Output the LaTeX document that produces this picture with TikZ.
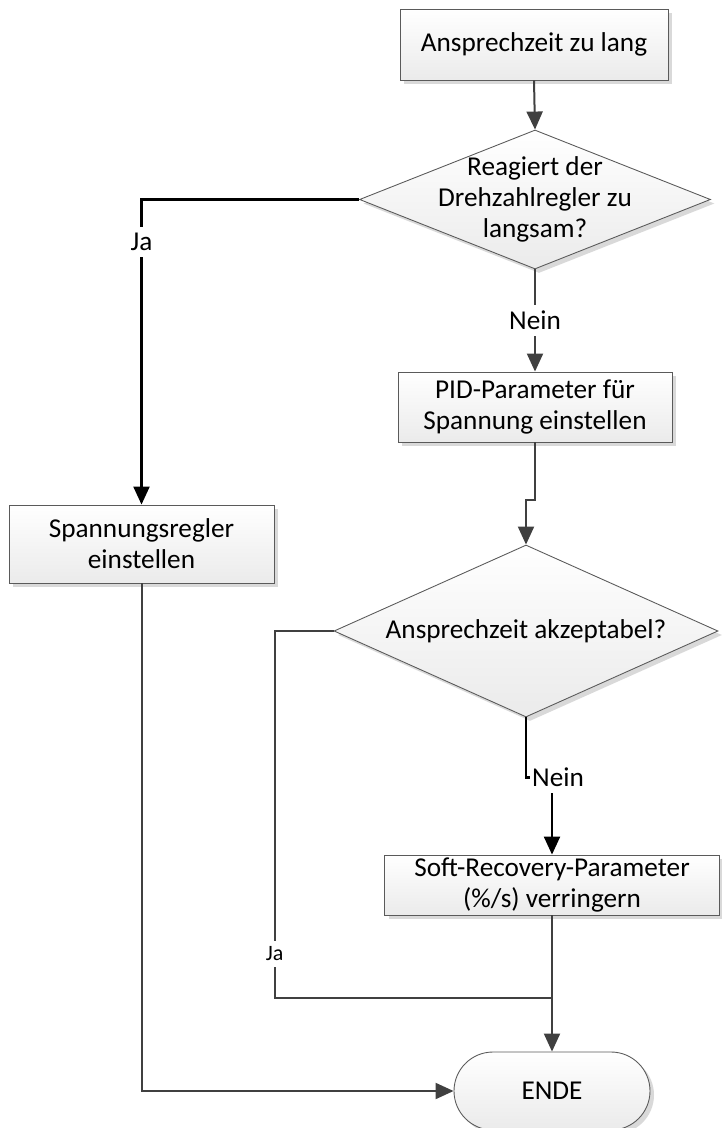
\documentclass[tikz,border=0pt]{standalone}
\usepackage{fontspec}
\setmainfont{Carlito}
\usetikzlibrary{positioning, shapes.geometric, shapes.misc, shadows, arrows.meta}

\definecolor{linegray}{HTML}{404040}
\definecolor{framegray}{HTML}{5A5A5A}

\begin{document}
\begin{tikzpicture}[
		    x=0.02cm, y=-0.02cm,
		    every node/.style={font=\fontsize{15.5}{17.6}\selectfont, inner sep=0pt},
		    shape base/.style={draw=framegray, line width=0.5pt, top color=white, bottom color=black!8,
		        drop shadow={shadow xshift=0.08cm, shadow yshift=-0.08cm, fill=black!15, opacity=1}},
		    box/.style={shape base, rectangle, align=center},
		    decision/.style={shape base, diamond},
		    terminal/.style={shape base, rounded rectangle},
		    line/.style={draw=linegray, line width=0.04cm},
		    flow/.style={line, -{Triangle[length=0.36cm, width=0.32cm]}},
		    flowdark/.style={flow, draw=black, line width=0.045cm},
		    lbl/.style={fill=white, inner sep=3.5pt}
		]
		    \useasboundingbox (0,0) rectangle (721,1128);

		    \node[box, minimum width=268*0.02cm, minimum height=71*0.02cm] (start) at (534,44.5) {Ansprechzeit zu lang};
		    \node[decision, minimum width=351*0.02cm, minimum height=139*0.02cm] (langsam) at (535,199.5) {};
		    \node[align=center] (langsamtxt) at (langsam) {Reagiert der\\Drehzahlregler zu\\langsam?};
		    \node[box, minimum width=265*0.02cm, minimum height=78*0.02cm] (spannung) at (141.5,544) {Spannungsregler\\einstellen};
		    \node[box, minimum width=274*0.02cm, minimum height=70*0.02cm] (pid) at (535,407) {PID-Parameter für\\Spannung einstellen};
		    \node[decision, minimum width=384*0.02cm, minimum height=172*0.02cm] (akzeptabel) at (526,631) {};
		    \node (akzeptabeltxt) at (akzeptabel) {Ansprechzeit akzeptabel?};
		    \node[box, minimum width=335*0.02cm, minimum height=60*0.02cm] (soft) at (552,885) {Soft-Recovery-Parameter\\(\%/s) verringern};
		    \node[terminal, minimum width=196*0.02cm, minimum height=78*0.02cm] (ende) at (552,1091) {ENDE};

		    \coordinate (merge) at (soft.south |- 0,998);

		    \draw[flow] (start.south) -- (langsam.north);
		    \draw[flowdark] (langsam.west) -| node[lbl, pos=0.57] {Ja} (spannung.north);
		    \draw[flow] (langsam.south) -- node[lbl] {Nein} (pid.north);
		    \draw[flow] (pid.south) -- ++(0,58) -| (akzeptabel.north);
		    \draw[flowdark] (akzeptabel.south) -- ++(0,60) -| node[lbl, pos=0.5, inner xsep=1pt, xshift=0.12cm] {Nein} (soft.north);
		    \draw[line] (akzeptabel.west) -- ++(-59,0) |- node[lbl, pos=0.44, font=\fontsize{12.5}{14}\selectfont] {Ja} (merge);
		    \draw[flow] (soft.south) -- (ende.north);
		    \draw[flow] (spannung.south) |- (ende.west);
		\end{tikzpicture}
\end{document}
